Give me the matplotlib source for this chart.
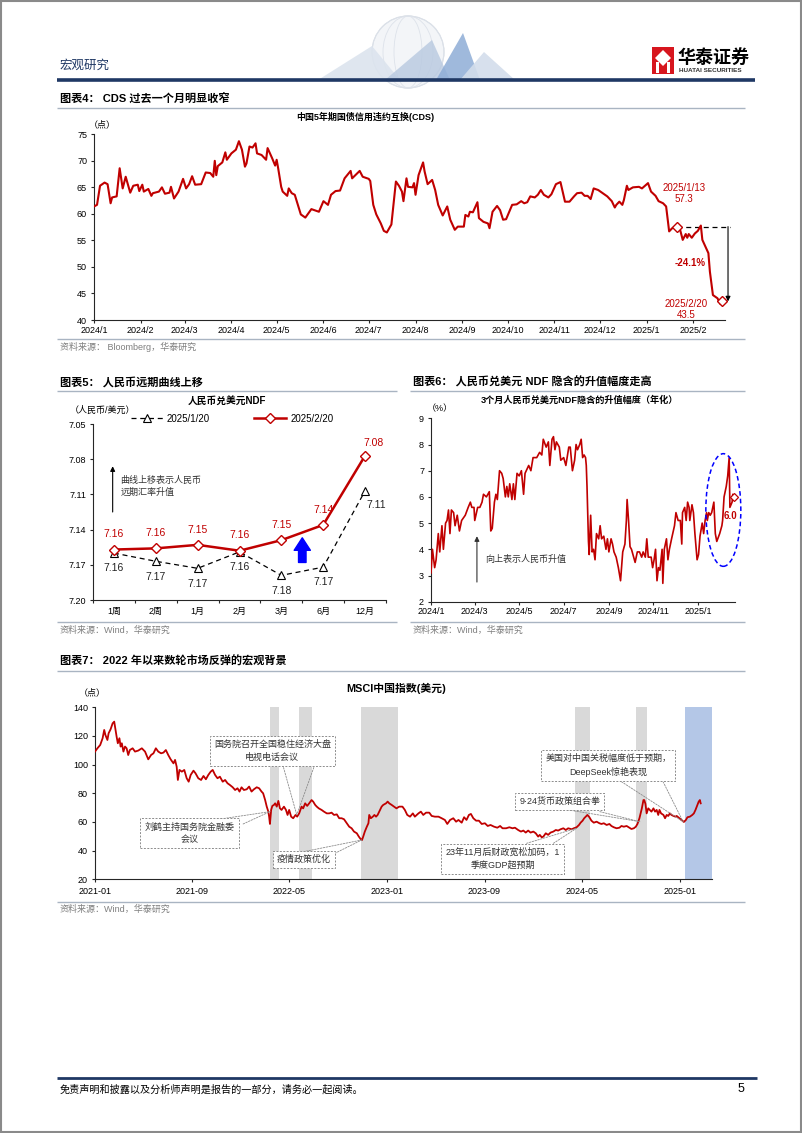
import numpy as np
import pandas as pd
import matplotlib
matplotlib.use('Agg')
import matplotlib.pyplot as plt
import matplotlib.dates as mdates
from matplotlib.patches import Ellipse, Rectangle, Polygon, Circle

plt.rcParams['font.family'] = ['Liberation Sans', 'Noto Sans CJK SC', 'DejaVu Sans']
plt.rcParams['axes.unicode_minus'] = False

W, H = 802, 1133
RED = '#C00000'
NAVY = '#1F3864'
RULE = '#A9B4C2'
SRC = '#7F7F7F'

# ---- chart 4: China 5y CDS, days since 2024-01-01
cds_day = [0, 2, 4, 7, 9, 11, 12, 15, 17, 19, 21, 24, 26, 29, 30, 32, 33, 36, 38, 39,
           43, 45, 47, 50, 51, 53, 56, 59, 61, 63, 65, 67, 71, 74, 77, 79, 80, 81, 82, 85,
           87, 88, 91, 94, 96, 98, 100, 101, 103, 105, 107, 108, 111, 114, 115, 118, 120, 121, 122, 124,
           125, 128, 129, 131, 133, 137, 140, 144, 149, 152, 155, 157, 160, 163, 166, 170, 171, 176, 178, 182,
           183, 185, 187, 190, 192, 194, 197, 200, 202, 204, 205, 207, 208, 211, 212, 213, 215, 218, 219, 221,
           224, 226, 228, 231, 234, 236, 239, 241, 245, 246, 248, 249, 251, 254, 255, 258, 261, 262, 264, 267,
           269, 271, 273, 277, 280, 283, 285, 287, 289, 292, 294, 296, 298, 301, 303, 306, 309, 312, 315, 318,
           320, 323, 325, 327, 329, 331, 334, 337, 340, 343, 345, 346, 348, 350, 351, 353, 354, 357, 361, 363,
           365, 367, 369, 372, 374, 377, 379, 381, 383, 386, 388, 390, 392, 393, 394, 396, 398, 400, 402, 403,
           407, 408, 410, 413, 415, 416]
cds_val = [61.4, 61.7, 65.3, 65.9, 65.6, 62.0, 63.1, 63.3, 68.6, 64.8, 67.0, 64.0, 65.3, 65.5, 64.3, 65.5, 64.2, 64.7, 63.4, 63.9,
           64.2, 65.0, 63.8, 64.0, 65.1, 62.9, 64.2, 66.6, 64.8, 65.6, 67.1, 65.5, 65.6, 67.8, 67.7, 67.0, 70.0, 67.3, 69.0, 69.7,
           71.6, 70.2, 71.4, 72.1, 73.7, 72.1, 68.9, 69.5, 72.7, 72.5, 73.3, 71.4, 71.1, 70.2, 72.4, 70.5, 69.1, 70.2, 68.6, 65.1,
           64.2, 63.4, 64.8, 63.9, 63.6, 59.9, 59.3, 60.9, 60.4, 62.4, 61.7, 63.6, 64.3, 64.4, 66.7, 68.1, 66.7, 68.1, 67.0, 66.6,
           66.2, 61.7, 59.9, 58.2, 56.8, 56.5, 58.0, 66.1, 65.3, 64.2, 62.4, 66.7, 65.1, 65.0, 65.8, 63.6, 67.3, 69.7, 68.0, 65.6,
           66.4, 64.5, 61.7, 59.7, 61.4, 58.9, 57.0, 57.6, 57.6, 59.8, 59.5, 60.4, 60.3, 62.2, 59.2, 58.5, 58.2, 57.3, 60.4, 61.5,
           60.7, 58.9, 59.0, 61.7, 61.8, 62.4, 62.0, 62.2, 63.3, 63.1, 63.6, 64.5, 63.6, 63.1, 63.7, 65.6, 66.0, 62.3, 62.3, 63.3,
           63.9, 64.0, 63.4, 63.4, 62.8, 64.8, 64.5, 63.9, 63.3, 62.4, 61.2, 61.7, 62.3, 61.7, 62.6, 65.3, 64.5, 65.0, 65.1, 64.8,
           65.3, 65.8, 64.2, 63.4, 62.4, 62.0, 61.4, 56.7, 57.3, 57.6, 57.3, 55.1, 56.2, 55.5, 56.2, 55.5, 56.3, 56.8, 57.8, 55.1,
           52.6, 49.1, 44.7, 44.1, 43.0, 43.5]
cds_mark_day = [386, 416]
cds_mark_text = ['2025/1/13', '2025/2/20']
cds_mark_label = [57.3, 43.5]

# ---- chart 5: CNY NDF curve
ndf_tenor = ['1周', '2周', '1月', '2月', '3月', '6月', '12月']
ndf_0120 = [7.160, 7.167, 7.173, 7.159, 7.179, 7.172, 7.107]
ndf_0220 = [7.157, 7.156, 7.153, 7.158, 7.149, 7.136, 7.077]

# ---- chart 6: 3m NDF implied appreciation (%), days since 2024-01-01
imp_day = [0, 2, 5, 7, 10, 12, 15, 17, 20, 22, 24, 26, 28, 31, 33, 36, 39, 42, 47, 51,
           54, 56, 59, 60, 64, 67, 70, 72, 76, 80, 82, 84, 87, 89, 91, 94, 97, 99, 102, 104,
           106, 108, 111, 113, 115, 118, 121, 124, 127, 129, 134, 137, 140, 145, 149, 152, 154, 158, 161, 163,
           166, 168, 170, 172, 176, 178, 182, 185, 189, 191, 194, 197, 199, 201, 204, 206, 208, 210, 212, 213,
           214, 215, 216, 217, 219, 221, 223, 225, 227, 230, 232, 234, 237, 240, 242, 244, 247, 249, 251, 254,
           257, 260, 263, 266, 268, 269, 271, 273, 275, 278, 280, 283, 286, 289, 291, 294, 296, 298, 302, 304,
           306, 308, 310, 312, 314, 317, 318, 320, 323, 325, 327, 330, 334, 336, 339, 342, 344, 345, 348, 350,
           352, 354, 355, 358, 360, 362, 365, 367, 369, 372, 374, 376, 378, 379, 381, 383, 385, 388, 390, 392,
           396, 399, 400, 402, 405, 407, 409, 410, 413, 414, 416]
imp_val = [3.1, 4.0, 3.3, 3.6, 4.6, 3.9, 4.9, 4.0, 5.0, 5.1, 5.5, 4.6, 5.5, 5.4, 4.9, 5.3, 4.7, 5.1, 5.3, 5.6,
           5.8, 5.6, 5.6, 5.1, 5.6, 5.6, 5.8, 6.1, 6.0, 6.2, 4.7, 4.8, 5.8, 6.1, 5.9, 7.0, 6.9, 6.7, 6.0, 6.4,
           6.0, 6.5, 5.9, 6.5, 5.9, 6.9, 6.8, 7.0, 6.1, 6.9, 7.2, 7.0, 7.5, 7.5, 7.7, 7.6, 8.2, 7.9, 8.1, 7.2,
           8.2, 8.3, 7.8, 8.1, 7.9, 7.4, 7.5, 7.2, 7.9, 7.9, 7.0, 7.4, 8.0, 7.8, 8.0, 8.2, 7.5, 7.6, 7.5, 7.2,
           6.4, 5.3, 4.3, 3.8, 5.3, 3.9, 4.0, 3.6, 4.6, 4.4, 4.9, 4.4, 4.5, 4.0, 4.4, 3.9, 4.4, 4.2, 3.9, 3.7,
           3.3, 2.8, 3.9, 4.2, 5.1, 5.9, 5.1, 4.1, 4.0, 3.7, 3.5, 3.9, 3.9, 3.7, 3.9, 3.7, 4.4, 3.7, 3.7, 3.3,
           3.6, 4.0, 2.8, 3.3, 3.2, 4.0, 2.7, 4.0, 4.4, 3.6, 4.0, 4.4, 4.9, 5.4, 5.1, 5.1, 4.2, 5.4, 5.6, 5.1,
           5.8, 5.6, 5.1, 5.7, 5.4, 4.6, 3.6, 3.8, 4.5, 5.0, 4.6, 5.1, 5.4, 5.1, 5.4, 5.3, 5.4, 5.8, 4.6, 4.3,
           4.6, 4.9, 5.1, 6.0, 6.4, 6.8, 7.5, 5.6, 5.8, 6.1, 6.0]

# ---- chart 7: MSCI China (USD), days since 2021-01-01
msci_day = [0, 6, 13, 19, 23, 26, 31, 34, 39, 44, 48, 51, 54, 57, 61, 64, 67, 71, 75, 79,
            83, 87, 94, 100, 108, 117, 125, 133, 140, 146, 152, 158, 165, 171, 177, 183, 189, 196, 200, 204,
            207, 211, 217, 223, 229, 234, 239, 246, 251, 258, 265, 271, 277, 283, 289, 294, 300, 306, 312, 319,
            325, 331, 337, 344, 350, 356, 361, 366, 372, 379, 385, 391, 397, 404, 410, 416, 420, 425, 429, 433,
            435, 437, 440, 443, 447, 450, 454, 458, 462, 466, 472, 477, 481, 485, 490, 495, 501, 505, 510, 516,
            520, 525, 530, 535, 541, 545, 550, 554, 559, 566, 572, 579, 585, 591, 597, 604, 610, 616, 622, 629,
            635, 641, 647, 654, 659, 664, 667, 670, 674, 679, 683, 685, 689, 694, 698, 702, 706, 712, 716, 720,
            727, 731, 735, 741, 747, 753, 760, 768, 774, 780, 787, 794, 799, 808, 814, 820, 827, 835, 841, 849,
            858, 866, 874, 880, 887, 895, 902, 908, 916, 922, 928, 934, 939, 945, 952, 959, 966, 974, 981, 988,
            997, 1005, 1012, 1018, 1027, 1035, 1043, 1049, 1057, 1064, 1070, 1076, 1082, 1088, 1095, 1101, 1107, 1111, 1116, 1120,
            1126, 1132, 1138, 1145, 1151, 1157, 1163, 1170, 1176, 1182, 1191, 1196, 1203, 1209, 1213, 1218, 1222, 1226, 1230, 1235,
            1240, 1246, 1253, 1260, 1265, 1271, 1278, 1285, 1290, 1296, 1303, 1310, 1315, 1321, 1328, 1335, 1340, 1346, 1351, 1355,
            1360, 1363, 1366, 1370, 1372, 1375, 1378, 1382, 1386, 1390, 1395, 1399, 1403, 1407, 1410, 1414, 1420, 1424, 1428, 1432,
            1436, 1440, 1445, 1450, 1453, 1465, 1471, 1476, 1480, 1486, 1492, 1496, 1500, 1504, 1508, 1511, 1513]
msci_val = [109.1, 111.4, 113.7, 118.4, 124.2, 120.7, 117.2, 121.9, 124.7, 128.8, 130.0, 124.7, 119.5, 114.9, 118.4, 112.6, 114.9, 109.1, 112.6, 111.4,
            106.7, 110.2, 111.4, 109.1, 109.8, 111.4, 109.1, 103.7, 106.7, 107.9, 111.4, 109.1, 107.9, 108.4, 110.2, 106.7, 103.7, 100.9, 103.3, 98.6,
            89.3, 96.3, 95.1, 96.3, 90.5, 88.1, 92.8, 95.8, 94.0, 90.5, 89.3, 92.1, 89.8, 92.8, 95.1, 96.3, 92.8, 90.5, 91.6, 88.1,
            89.3, 87.0, 85.8, 84.2, 82.3, 83.5, 81.2, 84.2, 82.3, 82.8, 84.7, 81.2, 82.8, 84.2, 83.5, 81.2, 80.0, 75.3, 70.7, 67.2,
            63.7, 58.6, 68.4, 71.2, 71.9, 73.0, 70.7, 74.7, 69.5, 68.4, 70.7, 68.4, 64.9, 68.4, 63.7, 62.6, 64.9, 63.7, 66.0, 70.7,
            69.5, 73.0, 71.2, 73.0, 75.3, 74.2, 71.9, 70.7, 69.5, 68.4, 67.2, 66.0, 66.0, 66.5, 64.9, 65.3, 62.6, 62.6, 61.9, 59.1,
            56.7, 55.6, 53.3, 52.1, 49.8, 47.9, 47.4, 49.8, 53.3, 56.7, 59.1, 64.9, 62.6, 63.7, 64.9, 63.7, 64.9, 68.4, 70.7, 71.9,
            73.0, 74.2, 73.0, 71.9, 70.7, 69.5, 70.7, 70.7, 68.4, 64.9, 63.7, 66.0, 63.7, 66.0, 67.2, 64.9, 66.5, 66.5, 64.2, 63.7,
            63.7, 62.6, 61.4, 58.6, 61.4, 62.6, 60.2, 61.4, 59.5, 63.3, 61.4, 64.9, 65.6, 62.6, 60.9, 60.9, 58.6, 59.1, 57.2, 57.9,
            56.7, 56.0, 57.2, 55.6, 55.6, 56.3, 55.6, 56.0, 54.4, 53.3, 54.0, 52.6, 54.0, 52.6, 53.3, 52.1, 49.8, 51.0, 49.3, 49.8,
            52.1, 51.0, 52.6, 53.3, 54.4, 54.0, 54.9, 55.6, 54.4, 55.6, 54.9, 55.6, 56.3, 57.9, 59.5, 60.9, 62.6, 63.7, 64.9, 63.3,
            60.9, 59.5, 60.2, 59.1, 58.6, 59.1, 57.9, 58.6, 57.2, 56.3, 55.6, 56.0, 57.2, 56.7, 57.2, 56.0, 55.1, 55.6, 56.7, 58.6,
            62.6, 66.0, 69.5, 75.3, 75.3, 72.6, 66.0, 69.5, 68.4, 67.2, 69.5, 67.2, 68.4, 64.9, 68.4, 66.0, 64.9, 62.6, 64.9, 64.2,
            66.0, 64.9, 64.2, 63.7, 64.2, 61.4, 60.0, 61.4, 63.3, 63.7, 64.9, 66.0, 68.4, 71.2, 74.2, 75.3, 73.0]
grey_start = ['2022-03-15', '2022-05-25', '2022-10-28', '2024-04-15', '2024-09-14']
grey_end = ['2022-04-05', '2022-06-28', '2023-01-28', '2024-05-21', '2024-10-10']
blue_start = '2025-01-13'

note_text = ['国务院召开全国稳住经济大盘\n电视电话会议',
             '刘鹤主持国务院金融委\n会议',
             '疫情政策优化',
             '9·24货币政策组合拳',
             '美国对中国关税幅度低于预期，\nDeepSeek惊艳表现',
             '23年11月后财政宽松加码，1\n季度GDP超预期']
note_pos = [(443, 109.6), (236, 52.1), (521, 33.8), (1161, 74.1), (1282, 99.3), (1018, 34.3)]
note_from = [[(469, 99.9), (549, 99.9)], [(300, 61.5), (370, 58.6)], [(520, 39.2), (599, 38.1)],
             [(1182, 68.4), (1261, 67.2)], [(1315, 88.1), (1419, 88.1)], [(1078, 45.1), (1145, 45.1)]]
note_to = [(504, 64.9), (437, 67.2), (666, 47.4), (1361, 60.2), (1469, 60.2), (1203, 55.6)]

fig = plt.figure(figsize=(W / 100, H / 100), dpi=100)

# page layer in pixel coordinates
pg = fig.add_axes([0, 0, 1, 1], zorder=-5)
pg.set_xlim(0, W)
pg.set_ylim(H, 0)
pg.axis('off')


def px_ax(l, t, r, b):
    return fig.add_axes([l / W, 1 - b / H, (r - l) / W, (b - t) / H])


def rule(y, x0, x1, color=RULE, lw=1.0):
    pg.plot([x0, x1], [y, y], color=color, lw=lw, solid_capstyle='butt')


def style(ax):
    for s in ['top', 'right']:
        ax.spines[s].set_visible(False)
    for s in ['left', 'bottom']:
        ax.spines[s].set_color('#262626')
        ax.spines[s].set_linewidth(0.8)
    ax.tick_params(labelsize=6.5, length=2.5, width=0.8, color='#262626', labelcolor='#000000')
    ax.tick_params(axis='x', pad=1.5)
    ax.tick_params(axis='y', pad=2.5)


# header decoration
pg.add_patch(Circle((408, 52), 36, fc='#f3f5f8', ec='#d5dbe3', lw=0.8))
for k in range(3):
    pg.add_patch(Ellipse((408, 52), 72 - k * 22, 72, fc='none', ec='#dde2ea', lw=0.6))
pg.add_patch(Polygon([(318, 80), (372, 46), (400, 80)], fc='#dce4ee', ec='none', alpha=0.9))
pg.add_patch(Polygon([(385, 80), (432, 40), (450, 80)], fc='#b8c9e0', ec='none', alpha=0.8))
pg.add_patch(Polygon([(436, 80), (463, 33), (480, 80)], fc='#8eadd6', ec='none', alpha=0.85))
pg.add_patch(Polygon([(460, 80), (484, 52), (515, 80)], fc='#d3ddeb', ec='none', alpha=0.9))
pg.text(60, 65, '宏观研究', fontsize=9, color=NAVY, va='center', ha='left', family=['Noto Sans CJK SC'])
pg.add_patch(Rectangle((652, 47), 22, 27, fc='#D7161E', ec='none'))
pg.add_patch(Polygon([(663, 50), (671, 58), (663, 66), (655, 58)], fc='white', ec='none'))
pg.add_patch(Rectangle((656, 62), 3, 11, fc='white', ec='none'))
pg.add_patch(Rectangle((667, 62), 3, 11, fc='white', ec='none'))
pg.text(678, 57, '华泰证券', fontsize=13, fontweight='bold', va='center', ha='left', family=['Noto Sans CJK SC'])
pg.text(679, 71, 'HUATAI SECURITIES', fontsize=4.6, fontweight='bold', va='center', ha='left', color='#333333')
rule(80, 57, 755, NAVY, 2.6)

# ---------------- chart 4
pg.text(60, 98, '图表4： CDS 过去一个月明显收窄', fontsize=8, fontweight='bold', va='center')
rule(108, 57, 745)
pg.text(365, 117, '中国5年期国债信用违约互换(CDS)', fontsize=6.5, fontweight='bold', ha='center', va='center')
pg.text(89, 125, '（点）', fontsize=6.5, va='center', ha='left')
rule(339, 57, 745)
pg.text(60, 347, '资料来源： Bloomberg，华泰研究', fontsize=6.5, color=SRC, va='center')

t4 = pd.Timestamp('2024-01-01')
cds_dates = t4 + pd.to_timedelta(cds_day, unit='D')
ax4 = px_ax(94, 134.3, 725, 320)
style(ax4)
ax4.plot(cds_dates, cds_val, color=RED, lw=1.5, zorder=3)
mk = [cds_day.index(d) for d in cds_mark_day]
mk_dates = cds_dates[mk]
mk_vals = [cds_val[i] for i in mk]
ax4.plot(mk_dates, mk_vals, ls='none', marker='D', ms=5, mfc='white', mec=RED, mew=1, zorder=4, clip_on=False)
ax4.set_ylim(40, 75)
ax4.set_xlim(t4, t4 + pd.Timedelta(days=418))
ax4.set_yticks(range(40, 76, 5))
m4 = pd.date_range('2024-01-01', '2025-02-01', freq='MS')
ax4.set_xticks(m4)
ax4.set_xticklabels([f'{d.year}/{d.month}' for d in m4])
right_end = t4 + pd.Timedelta(days=421)
arrow_x = t4 + pd.Timedelta(days=420)
ax4.plot([mk_dates[0], right_end], [mk_vals[0], mk_vals[0]], ls=(0, (4, 3)), color='black', lw=0.9,
         clip_on=False, zorder=2)
ax4.annotate('', xy=(arrow_x, mk_vals[1]), xytext=(arrow_x, mk_vals[0]), annotation_clip=False,
             arrowprops=dict(arrowstyle='-|>', color='black', lw=0.8, mutation_scale=7, shrinkA=0, shrinkB=0))
ax4.annotate(f'{cds_mark_text[0]}\n{cds_mark_label[0]}', (mk_dates[0], mk_vals[0]), xytext=(5, 24),
             textcoords='offset points', ha='center', va='center', color=RED, fontsize=7, linespacing=1.15)
ax4.annotate(f'{cds_mark_text[1]}\n{cds_mark_label[1]}', (mk_dates[1], mk_vals[1]), xytext=(-26, -6),
             textcoords='offset points', ha='center', va='center', color=RED, fontsize=7, linespacing=1.15)
chg = (cds_mark_label[1] / cds_mark_label[0] - 1) * 100
ax4.text(t4 + pd.Timedelta(days=395), 50.7, f'{chg:.1f}%', color=RED, fontsize=7, fontweight='bold',
         ha='center', va='center')

# ---------------- chart 5
pg.text(60, 382, '图表5： 人民币远期曲线上移', fontsize=8, fontweight='bold', va='center')
rule(391, 57, 397)
pg.text(227, 401, '人民币兑美元NDF', fontsize=7, fontweight='bold', ha='center', va='center')
pg.text(70, 410, '（人民币/美元）', fontsize=6.5, va='center', ha='left')
rule(622, 57, 397)
pg.text(60, 630, '资料来源：Wind，华泰研究', fontsize=6.5, color=SRC, va='center')

ax5 = px_ax(93, 424, 386, 600)
style(ax5)
x5 = np.arange(len(ndf_tenor))
ax5.plot(x5, ndf_0120, ls=(0, (4, 3)), color='black', lw=0.9, marker='^', ms=6, mfc='white', mec='black',
         mew=0.8, label='2025/1/20', zorder=3)
ax5.plot(x5, ndf_0220, color=RED, lw=1.8, marker='D', ms=5.5, mfc='white', mec=RED, mew=1,
         label='2025/2/20', zorder=4)
ax5.set_ylim(7.20, 7.05)
ax5.set_xlim(-0.5, len(ndf_tenor) - 0.5)
ax5.set_yticks(np.arange(7.05, 7.201, 0.03))
ax5.set_yticklabels([f'{v:.2f}' for v in np.arange(7.05, 7.201, 0.03)])
ax5.set_xticks(np.arange(-0.5, len(ndf_tenor), 1))
ax5.set_xticklabels([])
ax5.set_xticks(x5, minor=True)
ax5.set_xticklabels(ndf_tenor, minor=True, fontsize=6.5)
ax5.tick_params(axis='x', which='minor', length=0, pad=5)
ax5.legend(loc='center left', bbox_to_anchor=(0.115, 1.03), ncol=2, frameon=False, fontsize=7,
           handlelength=3.3, columnspacing=4.6, handletextpad=0.4, borderaxespad=0)
for i, v in enumerate(ndf_0220):
    off = (6, 9) if i == len(ndf_0220) - 1 else (0, 11)
    ax5.annotate(f'{v:.2f}', (i, v), xytext=off, textcoords='offset points', ha='center', va='center',
                 color=RED, fontsize=7.5)
for i, v in enumerate(ndf_0120):
    off = (8, -10) if i == len(ndf_0120) - 1 else (0, -11)
    ax5.annotate(f'{v:.2f}', (i, v), xytext=off, textcoords='offset points', ha='center', va='center',
                 color='#222222', fontsize=7.5)
ax5.annotate('', xy=(-0.03, 7.086), xytext=(-0.03, 7.125),
             arrowprops=dict(arrowstyle='-|>', color='black', lw=0.8, mutation_scale=7, shrinkA=0, shrinkB=0))
ax5.text(0.15, 7.103, '曲线上移表示人民币\n远期汇率升值', fontsize=6.5, ha='left', va='center', color='#333333',
         linespacing=1.45)
ax5.annotate('', xy=(4.5, 7.147), xytext=(4.5, 7.168),
             arrowprops=dict(arrowstyle='simple,head_width=1.3,head_length=1.0,tail_width=0.6',
                             fc='#0000FF', ec='#0000FF', mutation_scale=9, shrinkA=0, shrinkB=0))

# ---------------- chart 6
pg.text(413, 382, '图表6： 人民币兑美元 NDF 隐含的升值幅度走高', fontsize=8, fontweight='bold', va='center')
rule(391, 410, 745)
pg.text(579, 400, '3个月人民币兑美元NDF隐含的升值幅度（年化）', fontsize=6.6, fontweight='bold', ha='center',
        va='center')
pg.text(427, 409, '（%）', fontsize=6.5, va='center', ha='left')
rule(622, 410, 745)
pg.text(413, 630, '资料来源：Wind，华泰研究', fontsize=6.5, color=SRC, va='center')

imp_dates = t4 + pd.to_timedelta(imp_day, unit='D')
ax6 = px_ax(431, 418.3, 735, 601.7)
style(ax6)
ax6.plot(imp_dates, imp_val, color=RED, lw=1.2, zorder=3)
ax6.plot(imp_dates[-1:], imp_val[-1:], ls='none', marker='D', ms=4.5, mfc='white', mec=RED, mew=0.9, zorder=4,
         clip_on=False)
ax6.set_ylim(2, 9)
ax6.set_xlim(t4, t4 + pd.Timedelta(days=417))
m6 = pd.date_range('2024-01-01', '2025-01-01', freq='2MS')
ax6.set_xticks(m6)
ax6.set_xticklabels([f'{d.year}/{d.month}' for d in m6])
ax6.add_patch(Ellipse((mdates.date2num(t4 + pd.Timedelta(days=401)), 5.5), 48, 4.3, fc='none', ec='#0000FF',
                      ls=(0, (3, 2)), lw=1.1, zorder=5, clip_on=False))
ax6.annotate(f'{imp_val[-1]:.1f}', (imp_dates[-1], imp_val[-1]), xytext=(-3, -14), textcoords='offset points',
             ha='center', va='center', color=RED, fontsize=7, fontweight='bold', zorder=6)
ax6.annotate('', xy=(t4 + pd.Timedelta(days=63), 4.5), xytext=(t4 + pd.Timedelta(days=63), 2.75),
             arrowprops=dict(arrowstyle='-|>', color='#333333', lw=0.8, mutation_scale=7, shrinkA=0, shrinkB=0))
ax6.text(t4 + pd.Timedelta(days=74), 3.63, '向上表示人民币升值', fontsize=6.5, ha='left', va='center', color='#333333')

# ---------------- chart 7
pg.text(60, 661, '图表7： 2022 年以来数轮市场反弹的宏观背景', fontsize=8, fontweight='bold', va='center')
rule(671, 57, 745)
pg.text(396, 688, 'MSCI中国指数(美元)', fontsize=7.8, fontweight='bold', ha='center', va='center')
pg.text(79, 693, '（点）', fontsize=6.5, va='center', ha='left')
rule(902, 57, 745)
pg.text(60, 909, '资料来源：Wind，华泰研究', fontsize=6.5, color=SRC, va='center')

t7 = pd.Timestamp('2021-01-01')
msci_dates = t7 + pd.to_timedelta(msci_day, unit='D')
ax7 = px_ax(95, 707.3, 712.3, 879.3)
style(ax7)
x7_end = t7 + pd.Timedelta(days=1542)
for s, e in zip(grey_start, grey_end):
    ax7.axvspan(pd.Timestamp(s), pd.Timestamp(e), color='#D9D9D9', lw=0, zorder=0)
ax7.axvspan(pd.Timestamp(blue_start), x7_end, color='#B4C7E7', lw=0, zorder=0)
ax7.plot(msci_dates, msci_val, color=RED, lw=1.3, zorder=3)
ax7.set_ylim(20, 140)
ax7.set_xlim(t7, x7_end)
ax7.set_yticks(range(20, 141, 20))
m7 = pd.to_datetime(['2021-01-01', '2021-09-01', '2022-05-01', '2023-01-01', '2023-09-01', '2024-05-01',
                     '2025-01-01'])
ax7.set_xticks(m7)
ax7.set_xticklabels([d.strftime('%Y-%m') for d in m7])
ax7.tick_params(axis='x', pad=3)


def dd(p):
    return (t7 + pd.Timedelta(days=p[0]), p[1])


for txt, pos, src, dst in zip(note_text, note_pos, note_from, note_to):
    for p in src:
        ax7.annotate('', xy=dd(dst), xytext=dd(p),
                     arrowprops=dict(arrowstyle='-', color='#8c8c8c', lw=0.6, ls=(0, (2, 1.5)),
                                     shrinkA=0, shrinkB=0), zorder=4)
    ax7.text(*dd(pos), txt, fontsize=6.5, ha='center', va='center', color='#333333', linespacing=1.5, zorder=6,
             bbox=dict(boxstyle='square,pad=0.45', fc='white', ec='#8c8c8c', ls=(0, (2, 1.5)), lw=0.7))

# footer
rule(1078, 57, 757, NAVY, 2.0)
pg.text(60, 1089, '免责声明和披露以及分析师声明是报告的一部分，请务必一起阅读。', fontsize=7.3, va='center',
        family=['Noto Sans CJK SC'])
pg.text(741, 1089, '5', fontsize=9, va='center', ha='center')
pg.add_patch(Rectangle((0.5, 0.5), W - 1.5, H - 1.5, fill=False, ec='#8a8a8a', lw=1.5))

fig.savefig('out.png', dpi=100)
